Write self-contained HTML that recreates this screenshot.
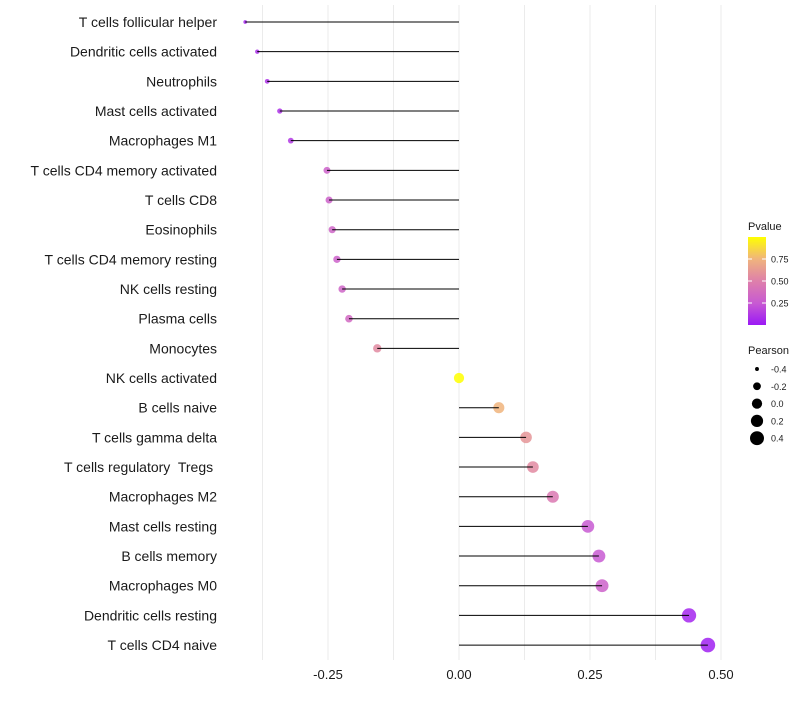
<!DOCTYPE html>
<html><head><meta charset="utf-8"><style>
body{margin:0;background:#fff;}
svg{font-family:"Liberation Sans",sans-serif;}
text{white-space:pre;}
</style></head><body>
<svg id="chart" width="800" height="700">
<g id="grid"></g>
<g id="stems"></g>
<g id="dots"></g>
<g id="ylabels"></g>
<g id="xlabels"></g>
<g id="legend"></g>
</svg>
<script>
const categories=["T cells follicular helper","Dendritic cells activated","Neutrophils","Mast cells activated","Macrophages M1","T cells CD4 memory activated","T cells CD8","Eosinophils","T cells CD4 memory resting","NK cells resting","Plasma cells","Monocytes","NK cells activated","B cells naive","T cells gamma delta","T cells regulatory  Tregs ","Macrophages M2","Mast cells resting","B cells memory","Macrophages M0","Dendritic cells resting","T cells CD4 naive"];
const pearson=[-0.408,-0.385,-0.366,-0.342,-0.321,-0.252,-0.248,-0.242,-0.233,-0.223,-0.210,-0.156,0.0,0.076,0.128,0.141,0.179,0.246,0.267,0.273,0.439,0.475];
const pvalues=[0.05,0.08,0.1,0.1,0.12,0.3,0.3,0.32,0.3,0.32,0.35,0.55,1.0,0.75,0.6,0.55,0.45,0.25,0.25,0.3,0.05,0.03];
const xTicks=[-0.25,0,0.25,0.5];
const xTickLabels=["-0.25","0.00","0.25","0.50"];
const gridVals=[-0.375,-0.25,-0.125,0,0.125,0.25,0.375,0.5];
const legendP=[0.75,0.5,0.25];
const legendPearson=[-0.4,-0.2,0.0,0.2,0.4];

const NS="http://www.w3.org/2000/svg";
const x=v=>459+v*524;
const y=i=>22+i*29.67;
const r=v=>{const t=Math.max(0,(v+0.41)/0.89);return Math.sqrt(1.8*1.8+t*(7.3*7.3-1.8*1.8));};
const stops=[[0,[155,25,245]],[0.25,[200,90,210]],[0.5,[222,128,170]],[0.75,[240,180,125]],[1,[255,255,0]]];
function col(p){for(let i=1;i<stops.length;i++){if(p<=stops[i][0]){const a=stops[i-1],b=stops[i],t=(p-a[0])/(b[0]-a[0]);return "rgb("+a[1].map((c,k)=>Math.round(c+(b[1][k]-c)*t)).join(",")+")";}}return "rgb(255,255,0)";}
function mk(tag,attrs,parent){const e=document.createElementNS(NS,tag);for(const k in attrs)e.setAttribute(k,attrs[k]);parent.appendChild(e);return e;}
const G=id=>document.getElementById(id);
gridVals.forEach(v=>{const l=mk("line",{x1:x(v),x2:x(v),y1:5,y2:660,stroke:"#ebebeb","stroke-width":1},G("grid"));

});
categories.forEach((c,i)=>{
 const d=mk("circle",{cx:x(pearson[i]),cy:y(i),r:r(pearson[i]),fill:col(pvalues[i]),"fill-opacity":0.85},G("dots"));
 
 
 const s=mk("line",{x1:x(0),x2:x(pearson[i]),y1:y(i),y2:y(i),stroke:"#000","stroke-width":1},G("dots"));
 
 
 const t=mk("text",{x:217,y:y(i)+5,"text-anchor":"end","font-size":14,fill:"#1a1a1a"},G("ylabels"));
 t.textContent=c;
 
 
});
xTicks.forEach((v,i)=>{const t=mk("text",{x:x(v),y:679,"text-anchor":"middle","font-size":13,fill:"#1a1a1a"},G("xlabels"));
t.textContent=xTickLabels[i];

});
const L=G("legend");
let t=mk("text",{x:748,y:230,"font-size":11,fill:"#1a1a1a"},L);t.textContent="Pvalue";


const defs=mk("defs",{},L);const lg=mk("linearGradient",{id:"pg",x1:0,y1:1,x2:0,y2:0},defs);
for(let i=0;i<=20;i++)mk("stop",{offset:i/20,"stop-color":col(i/20)},lg);
const bar=mk("rect",{x:748,y:237,width:18,height:88,fill:"url(#pg)"},L);


const py=p=>325-p*88;
legendP.forEach(p=>{mk("line",{x1:748,x2:752,y1:py(p),y2:py(p),stroke:"#fff"},L);mk("line",{x1:762,x2:766,y1:py(p),y2:py(p),stroke:"#fff"},L);
const tt=mk("text",{x:771,y:py(p)+3.5,"font-size":9,fill:"#1a1a1a"},L);tt.textContent=p.toFixed(2);

});
t=mk("text",{x:748,y:354,"font-size":11,fill:"#1a1a1a"},L);t.textContent="Pearson";


legendPearson.forEach((v,i)=>{const yy=369+i*17.3;
const c=mk("circle",{cx:757,cy:yy,r:r(v),fill:"#000"},L);


const tt=mk("text",{x:771,y:yy+3.5,"font-size":9,fill:"#1a1a1a"},L);tt.textContent=v.toFixed(1);

});
</script>
</body></html>
